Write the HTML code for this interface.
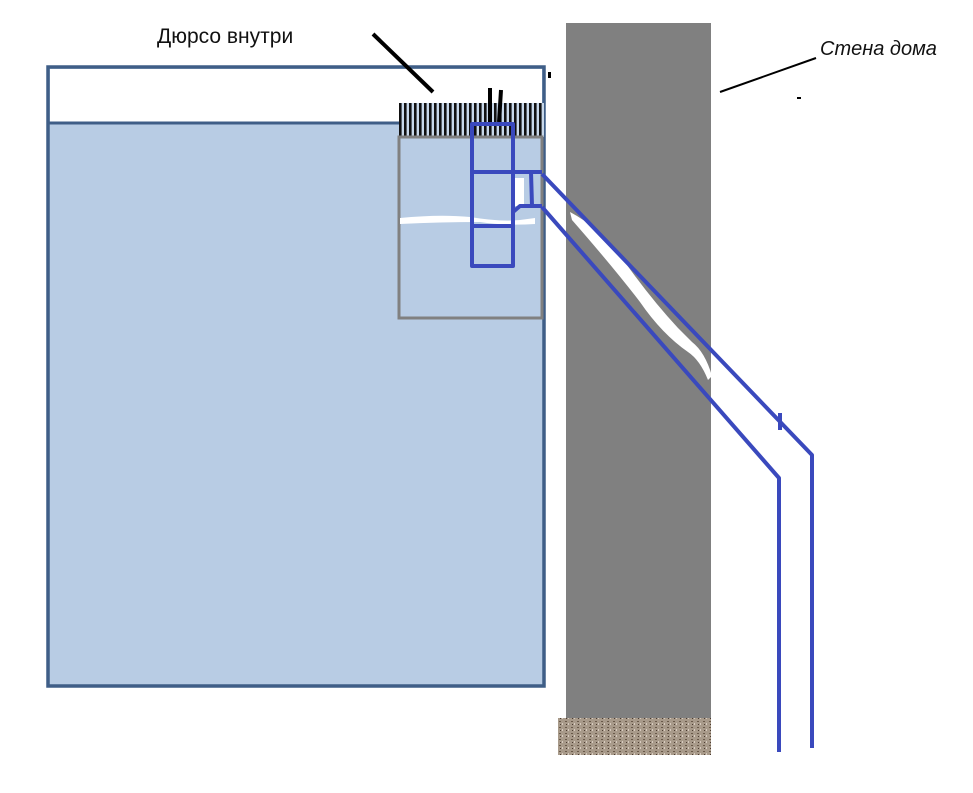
<!DOCTYPE html>
<html><head><meta charset="utf-8"><style>
html,body{margin:0;padding:0;background:#fff;}
svg{display:block;}
</style></head><body>
<svg width="973" height="793" viewBox="0 0 973 793" xmlns="http://www.w3.org/2000/svg">
<defs>
<pattern id="grill" x="399" y="0" width="5" height="10" patternUnits="userSpaceOnUse">
<rect width="5" height="10" fill="#c8d8ea"/>
<rect width="2.6" height="10" fill="#111"/>
</pattern>
<pattern id="grav" width="6" height="6" patternUnits="userSpaceOnUse">
<rect width="6" height="6" fill="#a89a8a"/>
<rect x="1" y="1" width="2" height="1" fill="#6a5a4a"/>
<rect x="4" y="3" width="1" height="2" fill="#d8ccc0"/>
<rect x="2" y="4" width="1" height="1" fill="#4a3a30"/>
</pattern>
</defs>
<text x="157" y="43" font-family="Liberation Sans, sans-serif" font-size="21" fill="#111">Дюрсо внутри</text>
<text x="820" y="55" font-family="Liberation Sans, sans-serif" font-style="italic" font-size="20" fill="#111">Стена дома</text>
<line x1="720" y1="92" x2="816" y2="58" stroke="#000" stroke-width="2"/>
<rect x="797" y="97" width="4" height="2" fill="#000"/>
<!-- wall -->
<rect x="558" y="718" width="153" height="37" fill="url(#grav)"/>
<rect x="566" y="23" width="145" height="695" fill="#808080"/>
<rect x="569" y="718" width="138" height="5" fill="url(#grav)"/>
<!-- tank -->
<rect x="48" y="67" width="496" height="619" fill="#b8cce4" stroke="#3f5e87" stroke-width="3.5"/>
<rect x="50" y="69" width="492" height="54" fill="#fff"/>
<line x1="48" y1="123" x2="400" y2="123" stroke="#3f5e87" stroke-width="3"/>
<rect x="399" y="103" width="145" height="34" fill="url(#grill)"/>
<rect x="399" y="137" width="143" height="181" fill="#b8cce4" stroke="#808080" stroke-width="3"/>
<path d="M400 218 Q440 214 470 217 Q500 222 520 220 L535 218 L535 224 Q505 226 480 222 Q440 222 400 224 Z" fill="#fff"/>
<rect x="514" y="178" width="10" height="28" fill="#fff"/>
<!-- crack -->
<path d="M570 212 Q600 228 622 258 Q650 298 678 328 L692 342 Q705 352 712 376 L708 380 Q700 360 688 352 Q662 334 640 302 Q614 268 572 220 Z" fill="#fff"/>
<!-- black lines -->
<line x1="373" y1="34" x2="433" y2="92" stroke="#000" stroke-width="4"/>
<line x1="490" y1="88" x2="490" y2="123" stroke="#000" stroke-width="4"/>
<line x1="501" y1="90" x2="499" y2="122" stroke="#000" stroke-width="4"/>
<rect x="548" y="72" width="3" height="6" fill="#000"/>
<!-- blue pipes -->
<g fill="none" stroke="#3a49bd" stroke-width="4" stroke-linejoin="round">
<rect x="472" y="124" width="41" height="142"/>
<line x1="472" y1="172" x2="542" y2="172"/>
<line x1="472" y1="226" x2="514" y2="226"/>
<line x1="531" y1="172" x2="532" y2="206"/>
<path d="M513 226 L513 212 L520 206 L542 206"/>
<path d="M542 174 L812 455 L812 748"/>
<path d="M542 207 L779 478 L779 752"/>
<line x1="780" y1="413" x2="780" y2="430"/>
</g>
</svg>
</body></html>
